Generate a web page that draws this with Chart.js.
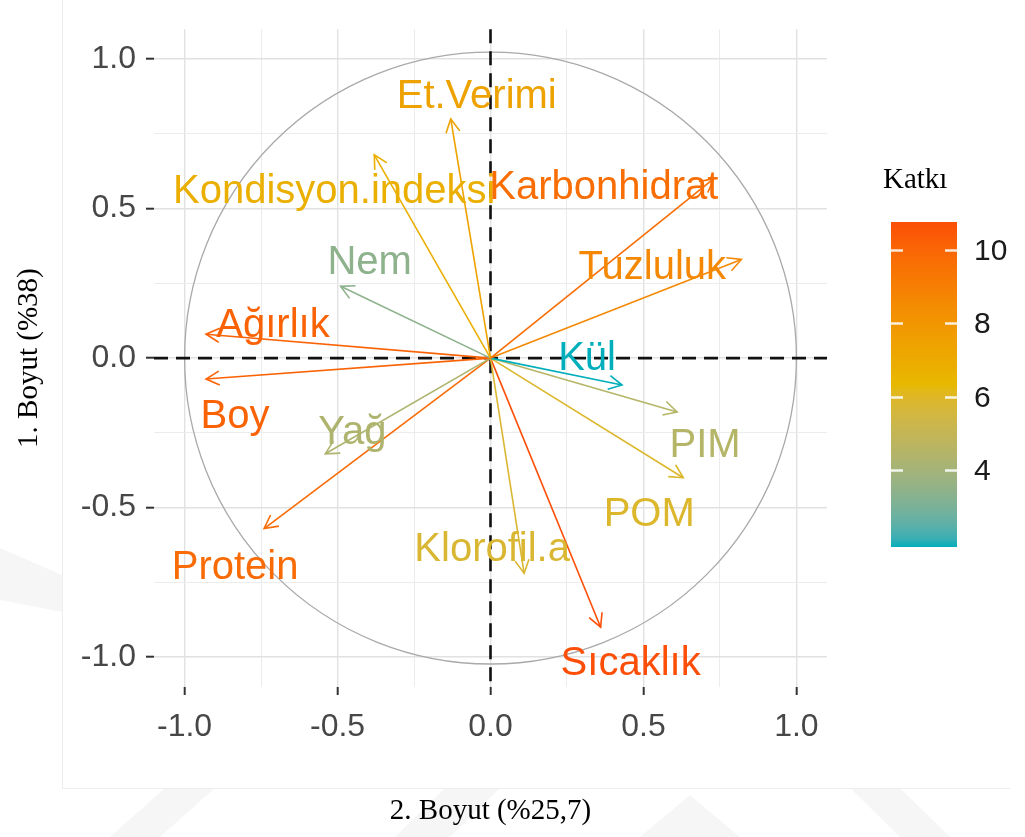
<!DOCTYPE html>
<html lang="tr">
<head>
<meta charset="UTF-8">
<title>Değişken katkıları</title>
<script src="https://cdn.jsdelivr.net/npm/chart.js"></script>
<style>
    html, body { margin: 0; padding: 0; background: #fff; }
    .chartBox { position: relative; width: 1025px; height: 837px; }
</style>
</head>
<body>
<div class="chartBox"><canvas id="pcaChart"></canvas></div>
<script>
// degiskenler ve koordinatlar (x = 2. boyut, y = 1. boyut)
const variables = ['Et.Verimi', 'Kondisyon.indeksi', 'Karbonhidrat', 'Tuzluluk', 'Nem', 'Ağırlık', 'Boy',
    'Kül', 'PIM', 'Yağ', 'POM', 'Protein', 'Klorofil.a', 'Sıcaklık'];
const dim2 = [-0.13, -0.38, 0.73, 0.82, -0.49, -0.93, -0.93, 0.43, 0.61, -0.54, 0.63, -0.74, 0.11, 0.36];
const dim1 = [0.80, 0.68, 0.60, 0.33, 0.24, 0.08, -0.07, -0.09, -0.18, -0.32, -0.40, -0.57, -0.72, -0.90];
const katki = [7.4, 6.8, 9.7, 8.6, 3.4, 10.1, 10.1, 1.9, 4.5, 4.3, 5.9, 9.8, 5.8, 10.77];
const axisTicks = [-1, -0.75, -0.5, -0.25, 0, 0.25, 0.5, 0.75, 1];
const legendTicks = [4, 6, 8, 10];
const palette = ['#00AFBB', '#E7B800', '#FC4E07'];

// etiketlerin ok ucuna gore kaymasi (piksel)
const labelNudge = {
    'Et.Verimi': [26, -11], 'Kondisyon.indeksi': [-40, 48], 'Karbonhidrat': [-110, 20], 'Tuzluluk': [-89, 20],
    'Nem': [29, -12], 'Ağırlık': [67, 3], 'Boy': [29, 49], 'Kül': [-35, -15], 'PIM': [28, 45],
    'Yağ': [27, -10], 'POM': [-34, 48], 'Protein': [-29, 50], 'Klorofil.a': [-32, -12], 'Sıcaklık': [30, 48]
};

const vMin = Math.min(...katki);
const vMax = Math.max(...katki);

// ggplot gibi Lab uzayinda renk gecisi
function hexToRgb(h) {
    return [parseInt(h.slice(1, 3), 16), parseInt(h.slice(3, 5), 16), parseInt(h.slice(5, 7), 16)];
}
function toLab(rgb) {
    const lin = rgb.map(v => { v /= 255; return v <= 0.04045 ? v / 12.92 : Math.pow((v + 0.055) / 1.055, 2.4); });
    const X = (lin[0] * 0.4124 + lin[1] * 0.3576 + lin[2] * 0.1805) / 0.95047;
    const Y = (lin[0] * 0.2126 + lin[1] * 0.7152 + lin[2] * 0.0722);
    const Z = (lin[0] * 0.0193 + lin[1] * 0.1192 + lin[2] * 0.9505) / 1.08883;
    const f = t => t > 0.008856 ? Math.cbrt(t) : 7.787 * t + 16 / 116;
    return [116 * f(Y) - 16, 500 * (f(X) - f(Y)), 200 * (f(Y) - f(Z))];
}
function fromLab(lab) {
    const fy = (lab[0] + 16) / 116, fx = fy + lab[1] / 500, fz = fy - lab[2] / 200;
    const inv = t => t * t * t > 0.008856 ? t * t * t : (t - 16 / 116) / 7.787;
    const X = inv(fx) * 0.95047, Y = inv(fy), Z = inv(fz) * 1.08883;
    const r = X * 3.2406 + Y * -1.5372 + Z * -0.4986;
    const g = X * -0.9689 + Y * 1.8758 + Z * 0.0415;
    const b = X * 0.0557 + Y * -0.2040 + Z * 1.0570;
    return [r, g, b].map(v => {
        v = v <= 0.0031308 ? 12.92 * v : 1.055 * Math.pow(v, 1 / 2.4) - 0.055;
        return Math.max(0, Math.min(255, Math.round(v * 255)));
    });
}
const paletteLab = palette.map(h => toLab(hexToRgb(h)));
function colorAt(t) {
    t = Math.max(0, Math.min(1, t));
    const seg = t < 0.5 ? 0 : 1;
    const lt = t < 0.5 ? t / 0.5 : (t - 0.5) / 0.5;
    const a = paletteLab[seg], b = paletteLab[seg + 1];
    return 'rgb(' + fromLab(a.map((x, i) => x + (b[i] - x) * lt)).join(',') + ')';
}
const colorFor = v => colorAt((v - vMin) / (vMax - vMin));
const isMajor = v => Math.abs(v * 2 - Math.round(v * 2)) < 1e-6;

const datasets = variables.map((name, i) => ({
    label: name,
    data: [{x: 0, y: 0}, {x: dim2[i], y: dim1[i]}],
    showLine: true,
    borderColor: colorFor(katki[i]),
    borderWidth: 1.6,
    pointRadius: 0,
    tension: 0
}));

const backdrop = {
    id: 'backdrop',
    beforeDraw(chart) {
        const c = chart.ctx;
        c.save();
        c.fillStyle = '#f6f6f6';
        // soluk filigran
        [[[0, 548], [62, 575], [62, 612], [0, 600]],
         [[110, 837], [160, 837], [215, 788], [165, 788]],
         [[395, 837], [450, 837], [500, 788], [445, 788]],
         [[640, 837], [690, 795], [740, 837]],
         [[900, 837], [950, 837], [900, 788], [850, 788]]].forEach(p => {
            c.beginPath();
            c.moveTo(p[0][0], p[0][1]);
            p.slice(1).forEach(q => c.lineTo(q[0], q[1]));
            c.closePath();
            c.fill();
        });
        c.strokeStyle = '#ededed';
        c.lineWidth = 1;
        c.beginPath();
        c.moveTo(62.5, 0);
        c.lineTo(62.5, 788.5);
        c.lineTo(1010, 788.5);
        c.stroke();
        c.restore();
    },
    beforeDatasetsDraw(chart) {
        const c = chart.ctx, xs = chart.scales.x, ys = chart.scales.y, a = chart.chartArea;
        const cx = xs.getPixelForValue(0), cy = ys.getPixelForValue(0);
        const r = xs.getPixelForValue(1) - cx;
        c.save();
        c.strokeStyle = '#a9a9a9';
        c.lineWidth = 1.3;
        c.beginPath();
        c.arc(cx, cy, r, 0, Math.PI * 2);
        c.stroke();
        c.strokeStyle = '#111';
        c.lineWidth = 2.6;
        c.setLineDash([14, 8]);
        c.beginPath();
        c.moveTo(a.left, cy);
        c.lineTo(a.right, cy);
        c.moveTo(cx, a.top);
        c.lineTo(cx, a.bottom);
        c.stroke();
        c.restore();
    }
};

const arrowsAndLabels = {
    id: 'arrowsAndLabels',
    afterDatasetsDraw(chart) {
        const c = chart.ctx;
        c.save();
        chart.data.datasets.forEach((ds, i) => {
            const pts = chart.getDatasetMeta(i).data;
            const p0 = pts[0], p1 = pts[1];
            const ang = Math.atan2(p1.y - p0.y, p1.x - p0.x);
            const len = 15, spread = Math.PI / 6.5;
            c.strokeStyle = ds.borderColor;
            c.lineWidth = 1.6;
            c.beginPath();
            c.moveTo(p1.x - len * Math.cos(ang - spread), p1.y - len * Math.sin(ang - spread));
            c.lineTo(p1.x, p1.y);
            c.lineTo(p1.x - len * Math.cos(ang + spread), p1.y - len * Math.sin(ang + spread));
            c.stroke();
        });
        c.font = '40px "Liberation Sans", Arial, sans-serif';
        c.textAlign = 'center';
        c.textBaseline = 'alphabetic';
        chart.data.datasets.forEach((ds, i) => {
            const p1 = chart.getDatasetMeta(i).data[1];
            const n = labelNudge[ds.label] || [0, -10];
            c.fillStyle = ds.borderColor;
            c.fillText(ds.label, p1.x + n[0], p1.y + n[1]);
        });
        c.restore();
    },
    afterDraw(chart) {
        // renk skalasi (Katki)
        const c = chart.ctx;
        const left = 891, right = 957, top = 222, bottom = 547;
        const yFor = v => bottom - (v - vMin) / (vMax - vMin) * (bottom - top);
        c.save();
        const g = c.createLinearGradient(0, bottom, 0, top);
        for (let k = 0; k <= 40; k++) g.addColorStop(k / 40, colorAt(k / 40));
        c.fillStyle = g;
        c.fillRect(left, top, right - left, bottom - top);
        c.strokeStyle = 'rgba(255,255,255,0.85)';
        c.lineWidth = 2.5;
        c.font = '30px "Liberation Sans", Arial, sans-serif';
        c.fillStyle = '#1a1a1a';
        c.textAlign = 'left';
        c.textBaseline = 'middle';
        legendTicks.forEach(v => {
            const y = Math.round(yFor(v)) + 0.5;
            c.beginPath();
            c.moveTo(left, y); c.lineTo(left + 12, y);
            c.moveTo(right - 12, y); c.lineTo(right, y);
            c.stroke();
            c.fillText(String(v), 974, y + 1);
        });
        c.font = '29px "Liberation Serif", "Times New Roman", serif';
        c.fillStyle = '#000';
        c.textBaseline = 'alphabetic';
        c.fillText('Katkı', 883, 188);
        c.restore();
    }
};

function axisOptions(titleText, isX) {
    return {
        type: 'linear',
        min: -1.1,
        max: 1.1,
        afterBuildTicks: s => { s.ticks = axisTicks.map(v => ({value: v})); },
        afterFit: s => { if (isX) { s.height = 150; } else { s.width = 154; } },
        border: {display: false},
        grid: {
            color: ctx => (ctx.tick && isMajor(ctx.tick.value)) ? '#e1e1e1' : '#ececec',
            lineWidth: ctx => (ctx.tick && isMajor(ctx.tick.value)) ? 1.4 : 1,
            drawTicks: true,
            tickLength: 8,
            tickWidth: 2,
            tickColor: ctx => (ctx.tick && isMajor(ctx.tick.value)) ? '#333' : 'rgba(0,0,0,0)'
        },
        ticks: {
            autoSkip: false,
            maxRotation: 0,
            padding: isX ? 13 : 10,
            color: '#474747',
            font: {family: '"Liberation Sans", Arial, sans-serif', size: 32},
            callback: v => isMajor(v) ? v.toFixed(1) : ''
        },
        title: {
            display: true,
            text: titleText,
            color: '#000',
            font: {family: '"Liberation Serif", "Times New Roman", serif', size: 29},
            padding: isX ? {top: 0, bottom: 8} : {top: 12, bottom: 0}
        }
    };
}

new Chart(document.getElementById('pcaChart'), {
    type: 'scatter',
    data: {datasets: datasets},
    options: {
        responsive: true,
        maintainAspectRatio: false,
        animation: false,
        layout: {padding: {top: 18, right: 198, bottom: 0, left: 0}},
        plugins: {
            legend: {display: false},
            tooltip: {enabled: false}
        },
        scales: {
            x: axisOptions('2. Boyut (%25,7)', true),
            y: axisOptions('1. Boyut (%38)', false)
        }
    },
    plugins: [backdrop, arrowsAndLabels]
});
</script>
</body>
</html>
